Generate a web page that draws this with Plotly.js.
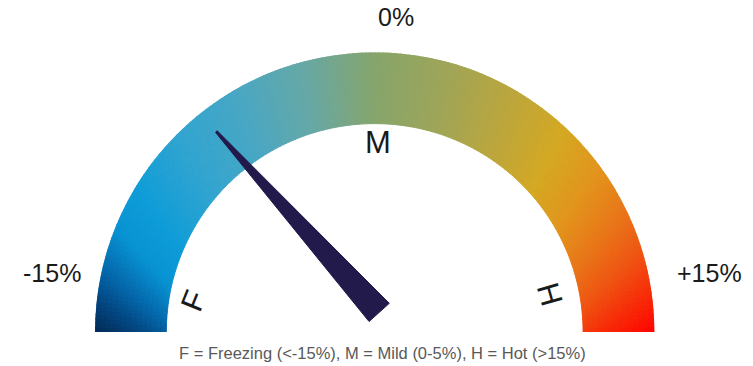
<!DOCTYPE html>
<html>
<head>
<meta charset="utf-8">
<script src="https://cdn.plot.ly/plotly-3.0.1.min.js"></script>
<style>
  html, body { margin: 0; padding: 0; background: #ffffff; }
  #chart { width: 753px; height: 366px; }
</style>
</head>
<body>
<div id="chart"></div>
<script>
// Dial range and reading
const gaugeMin = -15;
const gaugeMax = 15;
const needleValue = -7;

// Scale labels at the two ends and the middle
const tickValues = [-15, 0, 15];
const tickLabels = ['-15%', '0%', '+15%'];

// Zone letters: Freezing, Mild, Hot
const zoneLetters = ['F', 'M', 'H'];
const noteText = 'F = Freezing (<-15%), M = Mild (0-5%), H = Hot (>15%)';

// Colour ramp painted round the dial (cold -> hot)
const rampStops = [
  [0.00, '#022a55'],
  [0.04, '#03457f'],
  [0.08, '#0468ab'],
  [0.13, '#0892d2'],
  [0.18, '#0e9cd8'],
  [0.26, '#30a4d0'],
  [0.34, '#48a7c4'],
  [0.42, '#66a8a6'],
  [0.50, '#86a56c'],
  [0.58, '#9ea558'],
  [0.66, '#bca63c'],
  [0.73, '#d4a822'],
  [0.79, '#e2941c'],
  [0.85, '#e97418'],
  [0.90, '#ef5412'],
  [0.95, '#f72c08'],
  [1.00, '#ff0400']
];

const W = 753, H = 366;
const FONT = 'Liberation Sans, Arial, sans-serif';
const R_INNER = 0.745;          // inner edge of the coloured band, in dial radii
const GRAD_DROP = 0.63;         // ramp centre sits this far below the hub
const N_ANG = 200, N_RAD = 14;  // band is painted as small wedges

function valToTheta(v) { return (v - gaugeMin) / (gaugeMax - gaugeMin) * 180; }

function hexToRgb(h) {
  const n = parseInt(h.slice(1), 16);
  return [(n >> 16) & 255, (n >> 8) & 255, n & 255];
}
function rampColor(t) {
  t = Math.max(0, Math.min(1, t));
  for (let i = 1; i < rampStops.length; i++) {
    const [t1, c1] = rampStops[i];
    if (t <= t1) {
      const [t0, c0] = rampStops[i - 1];
      const f = (t - t0) / (t1 - t0 || 1);
      const a = hexToRgb(c0), b = hexToRgb(c1);
      const m = a.map((v, k) => Math.round(v + (b[k] - v) * f));
      return 'rgb(' + m.join(',') + ')';
    }
  }
  return rampStops[rampStops.length - 1][1];
}

// Ramp position of a point (cartesian, dial radii): angle seen from a point below the hub
function rampParam(x, y) {
  const phi = Math.atan2(y + GRAD_DROP, x);
  return (Math.PI - phi) / Math.PI;
}
const tLo = rampParam(-1, 0), tHi = rampParam(1, 0);

// Build the coloured band
const bandTheta = [], bandBase = [], bandR = [], bandColor = [];
const dTheta = 180 / N_ANG, dR = (1 - R_INNER) / N_RAD;
for (let i = 0; i < N_ANG; i++) {
  const th = (i + 0.5) * dTheta;
  const a = (180 - th) * Math.PI / 180;
  for (let j = 0; j < N_RAD; j++) {
    const rc = R_INNER + (j + 0.5) * dR;
    const t = (rampParam(rc * Math.cos(a), rc * Math.sin(a)) - tLo) / (tHi - tLo);
    bandTheta.push(th);
    bandBase.push(R_INNER + j * dR);
    bandR.push(dR);
    bandColor.push(rampColor(t));
  }
}

// Needle: tapered wedge from a hub just above the dial centre
const hub = { x: 0.016, y: 0.070 };
const needleLen = 0.87, baseHalf = 0.0486, tipHalf = 0.004;
function toPolar(x, y) {
  return { r: Math.hypot(x, y), theta: 180 - Math.atan2(y, x) * 180 / Math.PI };
}
const na = (180 - valToTheta(needleValue)) * Math.PI / 180;
const dx = Math.cos(na), dy = Math.sin(na), px = -dy, py = dx;
const tipX = hub.x + needleLen * dx, tipY = hub.y + needleLen * dy;
const needlePts = [
  [hub.x - baseHalf * px, hub.y - baseHalf * py],
  [tipX - tipHalf * px, tipY - tipHalf * py],
  [tipX + tipHalf * px, tipY + tipHalf * py],
  [hub.x + baseHalf * px, hub.y + baseHalf * py]
].map(p => toPolar(p[0], p[1]));
needlePts.push(needlePts[0]);

const traces = [
  {
    type: 'barpolar',
    theta: bandTheta,
    base: bandBase,
    r: bandR,
    width: dTheta,
    marker: { color: bandColor, line: { color: bandColor, width: 1 } },
    hoverinfo: 'skip',
    showlegend: false
  },
  {
    type: 'scatterpolar',
    mode: 'lines',
    r: needlePts.map(p => p.r),
    theta: needlePts.map(p => p.theta),
    fill: 'toself',
    fillcolor: '#211a4b',
    line: { color: '#211a4b', width: 1 },
    hoverinfo: 'skip',
    showlegend: false
  }
];

// pixel -> paper helpers for the text layer
const fx = x => x / W, fy = y => 1 - y / H;
const txt = (text, x, y, size, opts) => Object.assign({
  text, x: fx(x), y: fy(y), xref: 'paper', yref: 'paper',
  showarrow: false, xanchor: 'center', yanchor: 'middle',
  font: { family: FONT, size, color: '#1a1a1a' }
}, opts || {});

const annotations = [
  txt(tickLabels[0], 83, 273, 25, { xanchor: 'right' }),
  txt(tickLabels[1], 376, 17, 25, { xanchor: 'left' }),
  txt(tickLabels[2], 675, 273, 25, { xanchor: 'left' }),
  txt(zoneLetters[0], 193, 301, 31, { textangle: -68 }),
  txt(zoneLetters[1], 377.5, 142, 31),
  txt(zoneLetters[2], 550, 294, 31, { textangle: 74 }),
  txt(noteText, 382, 353, 16.5, { font: { family: FONT, size: 16.5, color: '#595959' } })
];

const cx = 374.7, cyTop = 332, R = 279.7;
const layout = {
  width: W, height: H,
  margin: { l: 0, r: 0, t: 0, b: 0 },
  paper_bgcolor: '#ffffff',
  showlegend: false,
  polar: {
    domain: { x: [fx(cx - R), fx(cx + R)], y: [fy(cyTop), fy(cyTop - R)] },
    sector: [0, 180],
    bgcolor: 'rgba(0,0,0,0)',
    radialaxis: { visible: false, range: [0, 1], showgrid: false },
    angularaxis: { visible: false, rotation: 180, direction: 'clockwise', showgrid: false }
  },
  barmode: 'overlay',
  annotations
};

Plotly.newPlot('chart', traces, layout, { staticPlot: true, displayModeBar: false });
</script>
</body>
</html>
